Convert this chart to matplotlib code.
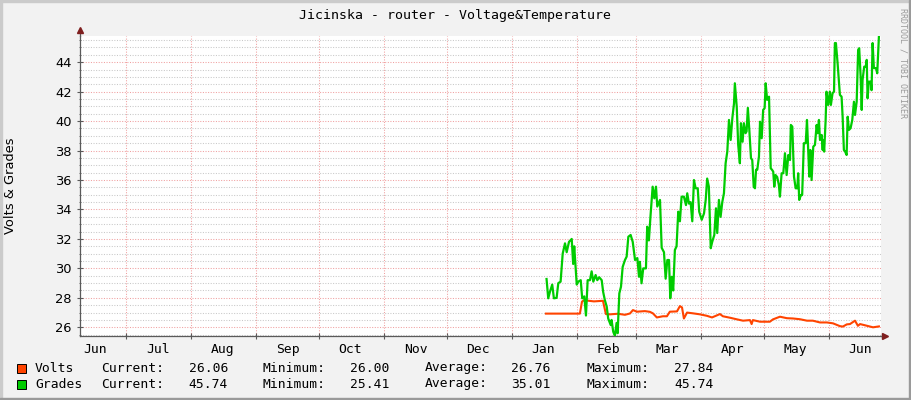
import datetime
import matplotlib
matplotlib.use("Agg")
import matplotlib.pyplot as plt
import matplotlib.dates as mdates
from matplotlib.ticker import MultipleLocator, NullFormatter
from matplotlib.patches import Rectangle
import numpy as np

# days counted from 2011-01-01
start_day = datetime.date(2011, 1, 1)
x_range = [-206.0, 176.0]
y_range = [25.41, 45.78]

grades_days = [16.5, 17.3, 18.1, 19.2, 20.0, 21.3, 22.1, 23.2, 24.2, 25.3,
               26.1, 27.2, 28.5, 29.2, 29.7, 30.9, 31.6, 32.8, 33.5, 34.5,
               35.3, 36.1, 37.2, 38.0, 38.8, 39.9, 40.7, 41.6, 42.8, 43.5,
               44.3, 45.2, 45.9, 47.1, 47.5, 48.3, 49.1, 49.9, 50.4, 51.2,
               52.0, 52.8, 53.9, 54.7, 55.5, 56.6, 57.6, 58.7, 59.8, 60.6,
               61.0, 61.8, 62.6, 63.9, 64.5, 65.3, 66.1, 67.1, 67.9, 68.7,
               69.3, 70.6, 71.4, 72.5, 73.3, 74.1, 74.9, 75.5, 76.2, 76.9,
               77.7, 78.5, 79.3, 80.1, 80.9, 82.0, 83.0, 83.6, 84.4, 85.2,
               86.0, 86.8, 87.6, 88.6, 89.3, 90.5, 91.6, 92.4, 93.1, 93.9,
               94.8, 95.5, 96.5, 97.3, 97.9, 98.7, 99.5, 100.3, 101.1, 101.9,
               102.7, 103.5, 104.3, 105.1, 105.9, 106.3, 107.2, 107.9, 108.7, 109.2,
               110.0, 110.6, 111.4, 111.9, 112.5, 113.2, 114.0, 114.6, 115.3, 115.9,
               116.4, 117.0, 117.8, 118.3, 119.1, 119.8, 120.5, 121.0, 121.7, 122.6,
               123.4, 124.1, 124.6, 125.1, 125.7, 126.5, 127.3, 127.8, 128.6, 129.4,
               130.2, 131.0, 131.8, 132.6, 133.0, 133.7, 134.5, 135.3, 136.1, 136.5,
               137.0, 137.8, 138.4, 139.2, 140.1, 140.7, 141.3, 141.8, 142.3, 142.9,
               143.7, 144.5, 145.3, 145.8, 146.4, 146.9, 147.7, 148.2, 148.4, 148.9,
               149.6, 150.0, 150.8, 151.6, 152.1, 152.9, 153.6, 154.0, 154.5, 155.3,
               156.4, 157.2, 157.7, 158.3, 158.9, 159.6, 160.1, 160.7, 161.5, 162.3,
               163.1, 163.6, 164.4, 165.1, 165.6, 166.3, 166.8, 167.2, 168.0, 168.7,
               169.2, 169.6, 170.2, 171.1, 171.5, 172.0, 172.6, 173.6, 174.2, 175.0]
grades = [29.28, 27.97, 28.4, 28.9, 27.97, 28.0, 29.0, 29.1, 31.0, 31.7,
          31.1, 31.8, 32.0, 30.3, 31.5, 28.9, 29.1, 29.2, 27.97, 28.1,
          26.8, 29.2, 29.2, 29.8, 29.1, 29.55, 29.2, 29.4, 29.2, 28.4,
          27.85, 27.4, 26.6, 26.15, 26.5, 25.7, 25.41, 26.3, 25.6, 28.3,
          28.76, 30.1, 30.57, 30.8, 32.15, 32.27, 31.8, 30.57, 30.7, 29.43,
          30.45, 28.99, 30.0, 30.0, 32.83, 31.9, 33.6, 35.55, 34.76, 35.55,
          34.2, 34.65, 31.4, 31.1, 29.3, 30.57, 30.57, 27.97, 29.43, 28.5,
          31.25, 31.5, 33.85, 33.2, 34.87, 34.87, 34.3, 35.1, 34.4, 34.5,
          33.2, 36.0, 35.44, 35.44, 33.85, 33.3, 33.74, 34.65, 36.1, 35.55,
          31.37, 31.8, 32.27, 34.08, 32.4, 34.65, 33.5, 34.5, 35.1, 37.14,
          37.93, 40.08, 38.72, 40.2, 41.2, 42.57, 40.98, 38.38, 37.14, 39.86,
          38.6, 39.86, 39.18, 39.3, 40.9, 39.4, 37.48, 37.36, 35.55, 35.44,
          36.7, 36.7, 37.6, 39.96, 38.84, 40.76, 40.88, 42.57, 41.44, 41.66,
          36.8, 36.68, 36.57, 35.55, 36.34, 36.2, 35.66, 34.87, 36.46, 36.46,
          37.82, 36.34, 37.7, 37.36, 39.74, 39.63, 36.23, 35.44, 35.44, 36.46,
          34.65, 34.98, 34.98, 38.5, 38.5, 40.08, 38.04, 36.23, 38.04, 36.0,
          38.27, 38.38, 39.74, 39.18, 40.08, 38.72, 39.06, 38.04, 38.72, 37.93,
          40.08, 42.0, 41.1, 42.0, 41.1, 41.9, 42.0, 45.3, 45.3, 43.93,
          41.78, 41.66, 40.3, 38.04, 37.93, 37.7, 40.3, 39.4, 39.52, 40.08,
          41.32, 40.42, 41.32, 44.84, 44.95, 43.0, 40.76, 42.8, 43.7, 43.7,
          44.16, 41.55, 42.68, 42.68, 42.1, 45.3, 43.6, 43.6, 43.25, 45.74]

volts_days = [16.2, 32.4, 33.4, 34.3, 39.1, 43.4, 44.8, 46.7, 50.5, 53.9,
              56.3, 57.7, 59.6, 63.4, 65.8, 67.2, 69.1, 72.0, 73.9, 75.3,
              78.7, 80.1, 81.1, 82.0, 83.5, 86.3, 89.7, 93.0, 95.4, 99.2,
              100.6, 104.0, 107.3, 110.2, 113.5, 114.3, 114.9, 118.3, 123.0, 124.5,
              127.8, 131.1, 134.0, 137.3, 140.7, 143.5, 146.9, 150.2, 153.1, 156.4,
              157.8, 159.7, 161.2, 163.6, 165.0, 166.0, 168.3, 172.2, 175.0]
volts = [26.93, 26.93, 27.74, 27.84, 27.76, 27.8, 26.9, 26.88, 26.92, 26.85,
         26.94, 27.17, 27.06, 27.1, 27.05, 26.95, 26.67, 26.75, 26.75, 27.06,
         27.08, 27.44, 27.35, 26.6, 27.0, 26.95, 26.88, 26.78, 26.67, 26.9,
         26.75, 26.65, 26.54, 26.45, 26.49, 26.22, 26.49, 26.38, 26.38, 26.54,
         26.72, 26.62, 26.6, 26.55, 26.45, 26.45, 26.33, 26.33, 26.27, 26.08,
         26.05, 26.2, 26.22, 26.45, 26.1, 26.22, 26.14, 26.0, 26.06]

series_names = ["Volts", "Grades"]
series_colors = ["#FF4400", "#00CC00"]
stat_names = ["Current:", "Minimum:", "Average:", "Maximum:"]
volts_stats = [26.06, 26.00, 26.76, 27.84]
grades_stats = [45.74, 25.41, 35.01, 45.74]

W, H = 911, 400
mono = "DejaVu Sans Mono"

fig = plt.figure(figsize=(W / 100, H / 100), dpi=100, facecolor="#F2F2F2")

# frame shading like rrdtool
fig.patches.append(Rectangle((0, 1 - 2 / H), 1, 2 / H, transform=fig.transFigure, color="#CBCBCB", zorder=0))
fig.patches.append(Rectangle((0, 0), 2 / W, 1, transform=fig.transFigure, color="#CBCBCB", zorder=0))
fig.patches.append(Rectangle((0, 0), 1, 2 / H, transform=fig.transFigure, color="#9A9A9A", zorder=0))
fig.patches.append(Rectangle((1 - 2 / W, 0), 2 / W, 1, transform=fig.transFigure, color="#9A9A9A", zorder=0))

ax = fig.add_axes([80 / W, 64 / H, 801 / W, 300 / H])
ax.set_facecolor("white")

base = mdates.date2num(start_day)
ax.plot(base + np.array(volts_days), volts, color=series_colors[0], lw=1.5, zorder=3)
ax.plot(base + np.array(grades_days), grades, color=series_colors[1], lw=1.6, zorder=4)

ax.set_xlim(base + x_range[0], base + x_range[1])
ax.set_ylim(y_range)

ax.xaxis.set_major_locator(mdates.MonthLocator())
ax.xaxis.set_major_formatter(NullFormatter())
ax.xaxis.set_minor_locator(mdates.MonthLocator(bymonthday=16))
ax.xaxis.set_minor_formatter(mdates.DateFormatter("%b"))
ax.yaxis.set_major_locator(MultipleLocator(2))
ax.yaxis.set_minor_locator(MultipleLocator(0.5))

ax.set_axisbelow(True)
ax.grid(axis="x", which="major", color="#F0A0A0", lw=0.75, ls=(0, (1, 1.5)))
ax.grid(axis="y", which="major", color="#F0A0A0", lw=0.75, ls=(0, (1, 1.5)))
ax.grid(axis="y", which="minor", color="#C8C8C8", lw=0.75, ls=(0, (1, 1.5)))

for s in ["top", "right"]:
    ax.spines[s].set_visible(False)
for s in ["left", "bottom"]:
    ax.spines[s].set_color("#5A5A5A")
    ax.spines[s].set_linewidth(0.9)

ax.tick_params(axis="x", which="major", length=4, direction="inout", color="#5A5A5A")
ax.tick_params(axis="x", which="minor", length=0, pad=5, labelsize=9.4, labelfontfamily=mono)
ax.tick_params(axis="y", which="major", length=4, direction="inout", color="#5A5A5A", pad=4, labelsize=9.4)
ax.tick_params(axis="y", which="minor", length=2, direction="inout", color="#5A5A5A")

# axis extensions with arrow heads
ax.plot([0, 0], [1, 1.02], transform=ax.transAxes, color="#5A5A5A", lw=0.9, clip_on=False)
ax.plot([1, 1.005], [0, 0], transform=ax.transAxes, color="#5A5A5A", lw=0.9, clip_on=False)
ax.plot([0], [1.02], transform=ax.transAxes, marker="^", ms=5, color="#7F1F1F", clip_on=False)
ax.plot([1.005], [0], transform=ax.transAxes, marker=">", ms=5, color="#7F1F1F", clip_on=False)

fig.text(455 / W, 1 - 15 / H, "Jicinska - router - Voltage&Temperature",
         ha="center", va="center", family=mono, fontsize=9.5)
fig.text(11 / W, 1 - 186 / H, "Volts & Grades", rotation=90, ha="center", va="center", fontsize=9.4)
fig.text(903 / W, 1 - 8 / H, "RRDTOOL / TOBI OETIKER", rotation=270, ha="center", va="top",
         family=mono, fontsize=6, color="#9A9A9A")

# legend rows
row_y = [368, 384]
label_x = [100.7, 262.7, 425, 586.7]
value_x = [188.7, 350, 511, 674]
for name, color, stats, y in zip(series_names, series_colors, [volts_stats, grades_stats], row_y):
    fig.patches.append(Rectangle((17 / W, 1 - (y + 5) / H), 9 / W, 9 / H, transform=fig.transFigure,
                                 facecolor=color, edgecolor="black", lw=0.7))
    fig.text(35 / W, 1 - y / H, name, va="center", family=mono, fontsize=9.4)
    for sname, val, lx, vx in zip(stat_names, stats, label_x, value_x):
        fig.text(lx / W, 1 - y / H, sname, va="center", family=mono, fontsize=9.4)
        fig.text(vx / W, 1 - y / H, "%.2f" % val, va="center", family=mono, fontsize=9.4)

fig.savefig("out.png", dpi=100, facecolor=fig.get_facecolor())
